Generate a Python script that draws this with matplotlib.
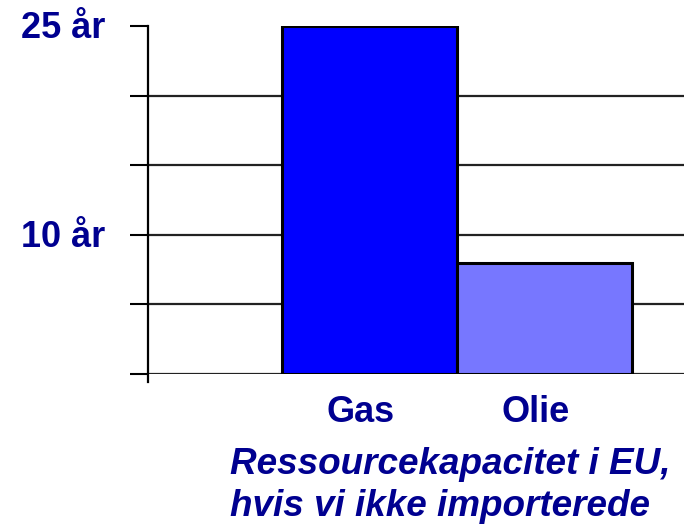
import matplotlib.pyplot as plt
from matplotlib.transforms import offset_copy

# data
categories = ["Gas", "Olie"]
years = [25, 8]
bar_colors = ["#0000ff", "#7777ff"]
grid_vals = [0, 5, 10, 15, 20]
tick_vals = [0, 5, 10, 15, 20, 25]
tick_labels = {10: "10 år", 25: "25 år"}
title_lines = ["Ressourcekapacitet i EU,", "hvis vi ikke importerede"]

navy = "#000090"
plt.rcParams['font.family'] = ['Liberation Sans', 'DejaVu Sans']

fig = plt.figure(figsize=(6.84, 5.26), dpi=100)
ax = fig.add_axes([148/684, 152/526, 1 - 148/684, (374-26)/526])

x = list(range(len(categories)))
ax.bar(x, years, width=1.0, color=bar_colors, edgecolor="black", linewidth=2.2, zorder=3)

for g in grid_vals:
    ax.axhline(g, color="#222222", linewidth=1.6, zorder=1)

ax.set_xlim(-1.263, 1.8)
ax.set_ylim(0, 25)

for s in ax.spines.values():
    s.set_visible(False)
ax.plot([-1.263, -1.263], [-0.6, 25], color="black", linewidth=1.6, clip_on=False, zorder=4)

ax.set_yticks(tick_vals)
ax.set_yticklabels([])
ax.tick_params(axis="y", direction="out", length=13, width=1.5, color="black")
ax.set_xticks([])

lab_tr = offset_copy(ax.get_yaxis_transform(), fig=fig, x=0, y=-3, units="dots")
for v, lab in tick_labels.items():
    ax.text(-43/536, v, lab, transform=lab_tr, ha="right", va="center",
            fontsize=26, fontweight="bold", color=navy)

for xi, c in zip(x, categories):
    ax.text(xi - 0.05, -2.8, c, ha="center", va="center", fontsize=26,
            fontweight="bold", color=navy)

fig.text(230/684, 1 - 464/526, title_lines[0], ha="left", va="center", fontsize=26.6,
         fontweight="bold", style="italic", color=navy)
fig.text(230/684, 1 - 507/526, title_lines[1], ha="left", va="center", fontsize=26.6,
         fontweight="bold", style="italic", color=navy)

fig.savefig("out.png", dpi=100)
